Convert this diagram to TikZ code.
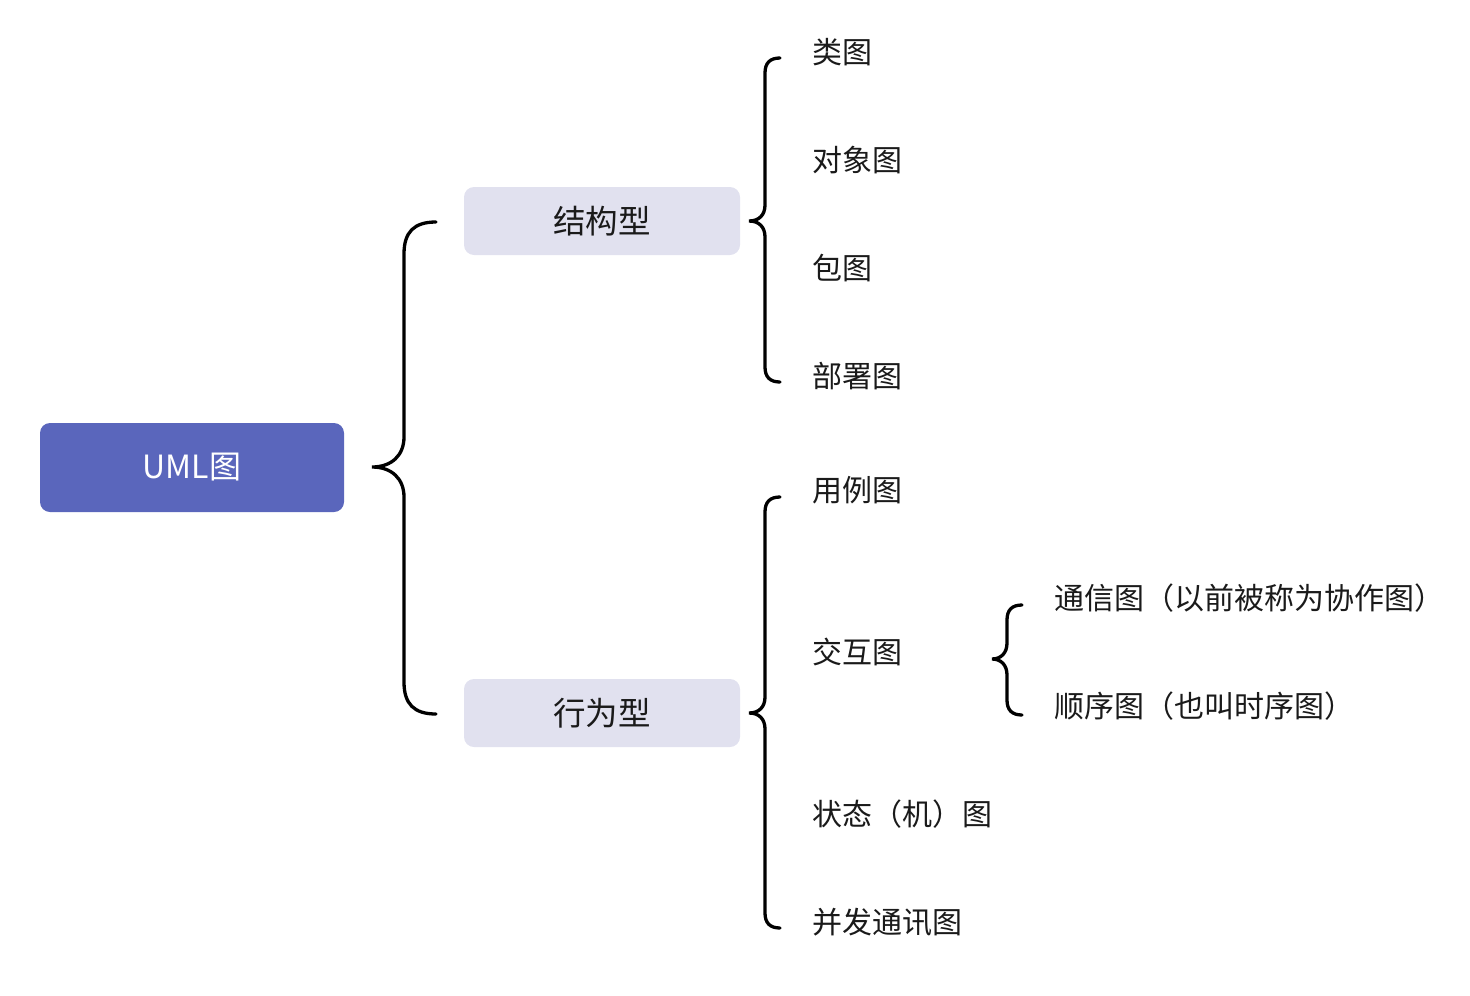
\documentclass[tikz,border=0pt]{standalone}
\usepackage{fontspec}
\setmainfont{Noto Sans CJK SC}
\definecolor{rootblue}{HTML}{5A66BC}
\definecolor{subgray}{HTML}{E1E1EF}
\definecolor{txt}{HTML}{1A1A1A}
\begin{document}
\begin{tikzpicture}[x=1pt,y=-1pt,
  rootbox/.style={fill=rootblue,rounded corners=10pt,minimum width=304pt,minimum height=89pt,inner sep=0pt,text=white,font=\fontsize{32}{38}\selectfont},
  subbox/.style={fill=subgray,rounded corners=10pt,minimum width=276pt,minimum height=68pt,inner sep=0pt,text=txt,font=\fontsize{32.5}{38}\selectfont},
  leaf/.style={anchor=west,inner sep=0pt,text=txt,font=\fontsize{30}{36}\selectfont},
  bracel/.style={draw=black,line width=3.3pt,line cap=round}]
\useasboundingbox (0,0) rectangle (1470,996);

\node[rootbox] (root) at (192,467.5) {UML图};
\node[subbox] (s1) at (602,221) {结构型};
\node[subbox] (s2) at (602,713) {行为型};

\node[leaf] (a1) at (812,52) {类图};
\node[leaf] (a2) at (812,160) {对象图};
\node[leaf] (a3) at (812,268) {包图};
\node[leaf] (a4) at (812,376) {部署图};

\node[leaf] (b1) at (812,490) {用例图};
\node[leaf] (b2) at (812,652) {交互图};
\node[leaf] (b3) at (812,814) {状态（机）图};
\node[leaf] (b4) at (812,922) {并发通讯图};

\node[leaf] (c1) at (1054,598) {通信图（以前被称为协作图）};
\node[leaf] (c2) at (1054,706) {顺序图（也叫时序图）};

% brace: root -> s1, s2
\coordinate (t0) at (372,467);
\draw[bracel] (436,222) .. controls (414,222) and (404,232) .. (404,254)
  -- (404,437) .. controls (404,455) and (392,467) .. (t0)
  .. controls (392,467) and (404,479) .. (404,497)
  -- (404,682) .. controls (404,704) and (414,714) .. (436,714);

% brace: s1 -> a1..a4
\coordinate (t1) at (749,221);
\draw[bracel] (780,58) .. controls (770,58) and (765,63) .. (765,73)
  -- (765,205) .. controls (765,215) and (759,221) .. (t1)
  .. controls (759,221) and (765,227) .. (765,237)
  -- (765,367) .. controls (765,377) and (770,382) .. (780,382);

% brace: s2 -> b1..b4
\coordinate (t2) at (749,713);
\draw[bracel] (780,497) .. controls (770,497) and (765,502) .. (765,512)
  -- (765,697) .. controls (765,707) and (759,713) .. (t2)
  .. controls (759,713) and (765,719) .. (765,729)
  -- (765,913) .. controls (765,923) and (770,928) .. (780,928);

% brace: b2 -> c1, c2
\coordinate (t3) at (992,659);
\draw[bracel] (1022,605) .. controls (1012,605) and (1007,610) .. (1007,620)
  -- (1007,643) .. controls (1007,653) and (1001,659) .. (t3)
  .. controls (1001,659) and (1007,665) .. (1007,675)
  -- (1007,700) .. controls (1007,710) and (1012,715) .. (1022,715);
\end{tikzpicture}
\end{document}
